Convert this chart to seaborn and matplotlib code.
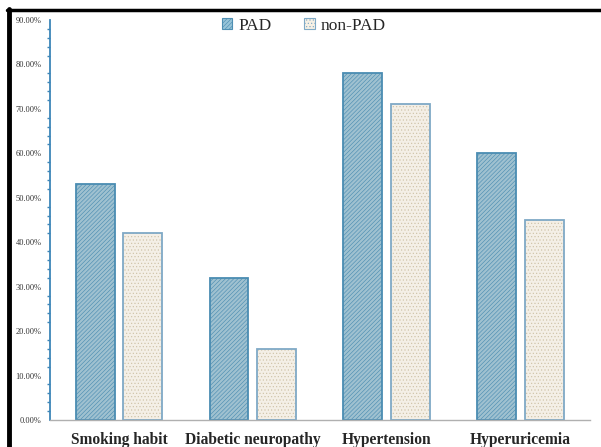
import copy
import pandas as pd
import matplotlib
matplotlib.use("Agg")
import matplotlib.pyplot as plt
from matplotlib.lines import Line2D
from matplotlib.patches import Patch
from matplotlib.ticker import MultipleLocator, FuncFormatter
import seaborn as sns

# data
categorias = ["Smoking habit", "Diabetic neuropathy", "Hypertension", "Hyperuricemia"]
pad = [53, 32, 78, 60]
non_pad = [42, 16, 71, 45]
grupos = ["PAD", "non-PAD"]

df = pd.DataFrame({
    "categoria": categorias * 2,
    "grupo": [grupos[0]] * len(pad) + [grupos[1]] * len(non_pad),
    "valor": pad + non_pad,
})

sns.set_style("white")
plt.rcParams["hatch.linewidth"] = 0.45
plt.rcParams["font.family"] = ["Liberation Serif", "DejaVu Serif"]

fig = plt.figure(figsize=(6.01, 4.47), dpi=100)
ax = fig.add_axes([50 / 601, 27 / 447, 540 / 601, 400 / 447])

sns.barplot(data=df, x="categoria", y="valor", hue="grupo", order=categorias,
            hue_order=grupos, width=0.71, gap=0.18, ax=ax,
            palette={"PAD": "#97c4d8", "non-PAD": "#f6f0e4"}, legend=False)

estilos = {
    "PAD": dict(hatch="////////", edge="#4f8fb3"),
    "non-PAD": dict(hatch=".....", edge="#cfc3a8"),
}
for cont, g in zip(ax.containers, grupos):
    for barra in cont:
        barra.set_hatch(estilos[g]["hatch"])
        barra.set_edgecolor(estilos[g]["edge"])
        barra.set_linewidth(0)
        # outline drawn on top, from the bar's own geometry
        borda = copy.copy(barra)
        borda.set_fill(False)
        borda.set_hatch(None)
        borda.set_edgecolor("#4a8cb2" if g == "PAD" else "#7fa9c6")
        borda.set_linewidth(1.3)
        ax.add_patch(borda)

ax.set_xlim(-0.515, 3.52)
ax.set_ylim(0, 90)
ax.yaxis.set_major_locator(MultipleLocator(10))
ax.yaxis.set_minor_locator(MultipleLocator(2))
ax.yaxis.set_major_formatter(FuncFormatter(lambda v, p: f"{v:.2f}%"))
ax.set_xlabel("")
ax.set_ylabel("")

for lado in ["top", "right"]:
    ax.spines[lado].set_visible(False)
ax.spines["left"].set_color("#3d86b8")
ax.spines["left"].set_linewidth(1.3)
ax.spines["bottom"].set_color("#b0b0b0")
ax.spines["bottom"].set_linewidth(1.0)

ax.tick_params(axis="y", which="major", direction="out", length=3, width=1,
               color="#3d86b8", labelsize=6, labelcolor="#333333", pad=3)
ax.tick_params(axis="y", which="minor", direction="out", length=2, width=1,
               color="#3d86b8", left=True)
ax.tick_params(axis="x", length=0, pad=9)
for t in ax.get_xticklabels():
    t.set_fontweight("bold")
    t.set_fontsize(11.2)

handles = [
    Patch(facecolor="#97c4d8", edgecolor="#4f8fb3", hatch="////////", linewidth=0.8),
    Patch(facecolor="#f6f0e4", edgecolor="#7fa9c6", hatch=".....", linewidth=0.8),
]
ax.legend(handles, grupos, loc="upper center", bbox_to_anchor=(0.47, 1.045), ncol=2,
          frameon=False, fontsize=12.5, handlelength=0.6, handleheight=0.6,
          handletextpad=0.35, columnspacing=1.9)

# black frame of the scanned figure (left and top)
fig.add_artist(Line2D([9 / 601, 9 / 601], [0, 1 - 9 / 447], color="black", lw=3.5,
                      transform=fig.transFigure))
fig.add_artist(Line2D([7 / 601, 1], [1 - 10 / 447, 1 - 10 / 447], color="black", lw=2.5,
                      transform=fig.transFigure))

fig.savefig("out.png", dpi=100)
